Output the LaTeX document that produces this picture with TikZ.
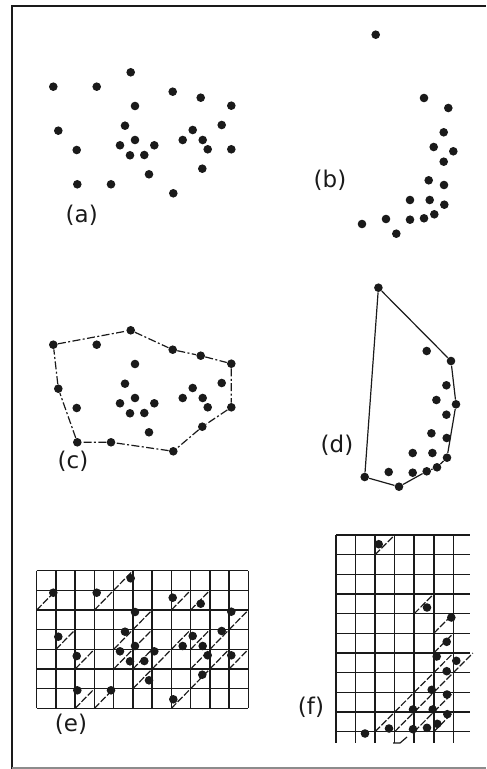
\documentclass[tikz,border=0pt]{standalone}
\usepackage{fontspec}
\setmainfont{DejaVu Sans}
\definecolor{ink}{HTML}{1A1A1A}
\definecolor{rule}{HTML}{8C8C8C}

% scattered points of the upper panels, in pixel units
\def\ptsA{130.7/72.3, 53.3/86.7, 96.7/86.7, 172.7/91.7, 200.7/97.7, 231.3/105.7,
  135/106, 58.3/130.7, 125/125.7, 192.7/130, 221.7/125, 76.7/150, 120/145.3,
  135/140, 154.3/145.3, 182.7/140, 202.7/140, 130/155.3, 144.3/155, 207.7/149.3,
  231.3/149.3, 202.3/168.7, 149/174.3, 77.3/184.3, 111/184.3, 173.3/193.3}
\def\ptsB{375.7/34.7, 424/98, 448.3/108, 443.7/132.3, 433.7/147, 453.3/151.3,
  443.7/161.7, 428.7/180.3, 444/185, 410/200, 429.7/200, 444.3/204.7,
  434.3/214.3, 424/218.3, 410/219.7, 386/219, 362/224, 396.3/233.7}

\begin{document}
\begin{tikzpicture}[x=0.5pt,y=-0.5pt,
  dot/.style={circle,fill=ink,inner sep=0pt,minimum size=4.3pt},
  lbl/.style={font=\fontsize{11.5}{13}\selectfont,text=ink},
  gridline/.style={ink,line width=0.75pt},
  diag/.style={ink,line width=0.6pt,dash pattern=on 3.5pt off 1pt},
  hull/.style={ink,line width=0.6pt},
  brokenhull/.style={hull,dash pattern=on 4pt off 1.2pt on 1pt off 1.2pt}]
  \useasboundingbox (0,0) rectangle (486,769);
  % frame
  \draw[ink,line width=1pt] (12,769) -- (12,6) -- (486,6);
  \draw[rule,line width=0.8pt] (12,768) -- (486,768);

  % grids of (e) and (f)
  \foreach \k in {0,...,11}
    \draw[gridline] (36.7+19.24*\k,570.7) -- (36.7+19.24*\k,708.3);
  \foreach \j in {0,...,7}
    \draw[gridline] (36.7,570.7+19.66*\j) -- (248.3,570.7+19.66*\j);
  \foreach \k in {0,...,6}
    \draw[gridline] (336+19.55*\k,535) -- (336+19.55*\k,743);
  \foreach \j in {0,...,10}
    \draw[gridline] (336,535+19.67*\j) -- (470,535+19.67*\j);

  % occupied cells
  \foreach \c/\r in {4/0,0/1,3/1,7/1,8/1,5/2,10/2,1/3,4/3,5/3,7/3,8/3,9/3,
      2/4,4/4,5/4,6/4,8/4,9/4,10/4,5/5,8/5,2/6,3/6,7/6}
    \draw[diag] (36.7+19.24*\c,590.36+19.66*\r) -- ++(19.24,-19.66);
  \foreach \c/\r in {2/0,4/3,5/4,5/5,5/6,6/6,4/7,5/7,3/8,4/8,5/8,2/9,3/9,4/9,5/9}
    \draw[diag] (336+19.55*\c,554.67+19.67*\r) -- ++(19.55,-19.67);
  \draw[hull] (393,743) -- (400,743) -- (407,737);

  % dots
  \foreach \x/\y [count=\i] in \ptsA {
    \node[dot] (a\i) at (\x,\y) {};
    \node[dot] (c\i) at (\x,\y+258) {};
    \node[dot] (e\i) at (\x,\y+506) {};
  }
  \foreach \x/\y [count=\i] in \ptsB {
    \node[dot] (b\i) at (\x,\y) {};
    \node[dot] (d\i) at (\x+2.7,\y+253) {};
    \ifnum\i<18 \node[dot] (f\i) at (\x+3,\y+509.5) {}; \fi
  }

  % hulls
  \draw[brokenhull] (c2) -- (c1) -- (c4) -- (c5) -- (c6) -- (c21) -- (c22)
    -- (c26) -- (c25) -- (c24) -- (c8) -- (c2);
  \draw[hull] (d1) -- (d3) -- (d6) -- (d12) -- (d13) -- (d14) -- (d18)
    -- (d17) -- (d1);

  \node[lbl] (la) at (81.7,215) {(a)};
  \node[lbl] (lb) at (330,180) {(b)};
  \node[lbl] (lc) at (73,461) {(c)};
  \node[lbl] (ld) at (337,445) {(d)};
  \node[lbl] (le) at (71,724) {(e)};
  \node[lbl] (lf) at (311,707) {(f)};
\end{tikzpicture}
\end{document}
